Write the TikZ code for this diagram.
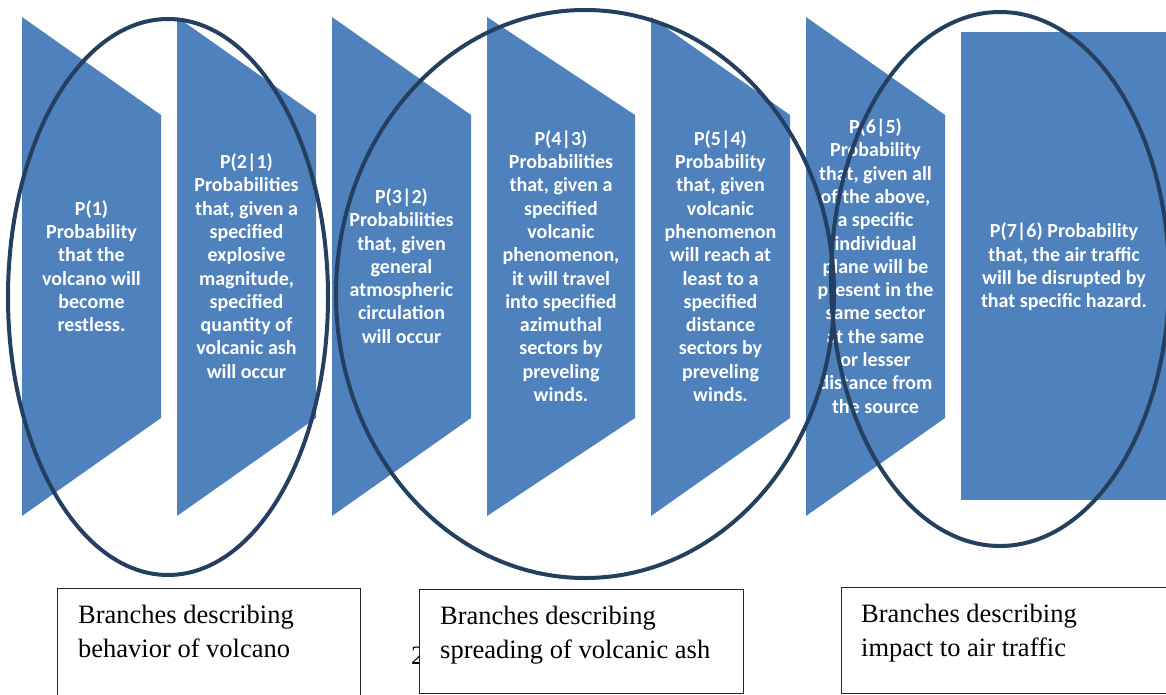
\documentclass[tikz,border=0pt]{standalone}
\usepackage{fontspec}
\setmainfont{Liberation Serif}
\newfontfamily\calfont{Carlito}
\usepackage{tikz}
\definecolor{chevblue}{HTML}{4F81BD}
\definecolor{ringnavy}{HTML}{243F60}

\begin{document}
\begin{tikzpicture}[x=1pt,y=-1pt]
        \tikzstyle{every node} = [inner sep=0pt]
        \tikzstyle{stage} = [text=white, align=center, font=\calfont\bfseries\fontsize{20}{23.3}\selectfont]
        \tikzstyle{ring} = [draw=ringnavy, line width=4pt]
        \tikzstyle{branchbox} = [draw=black!85, fill=white, line width=0.9pt, anchor=north west]
        \tikzstyle{branchtext} = [anchor=north west, align=left, font=\fontsize{26.5}{34}\selectfont]
        \clip (0,0) rectangle (1166,695);

        % chevrons and last block
        \foreach \x/\w in {22/139, 177/139, 332/139, 487/148, 651/139, 806/139}
            \fill[chevblue] (\x,17) -- (\x+\w,115) -- (\x+\w,418) -- (\x,516) -- cycle;
        \fill[chevblue] (961,32) rectangle (1180,500);

        \node[stage] (p1) at (91.5,266) {P(1)\\Probability\\that the\\volcano will\\become\\restless.};
        \node[stage] (p2) at (246.5,266) {P(2|1)\\Probabilities\\that, given a\\specified\\explosive\\magnitude,\\specified\\quantity of\\volcanic ash\\will occur};
        \node[stage] (p3) at (401.5,266) {P(3|2)\\Probabilities\\that, given\\general\\atmospheric\\circulation\\will occur};
        \node[stage] (p4) at (561,266) {P(4|3)\\Probabilities\\that, given a\\specified\\volcanic\\phenomenon,\\it will travel\\into specified\\azimuthal\\sectors by\\preveling\\winds.};
        \node[stage] (p5) at (720.5,266) {P(5|4)\\Probability\\that, given\\volcanic\\phenomenon\\will reach at\\least to a\\specified\\distance\\sectors by\\preveling\\winds.};
        \node[stage] (p6) at (875.5,266) {P(6|5)\\Probability\\that, given all\\of the above,\\a specific\\individual\\plane will be\\present in the\\same sector\\at the same\\or lesser\\distance from\\the source};
        \node[stage] (p7) at (1064,267) {P(7|6) Probability\\that, the air traffic\\will be disrupted by\\that specific hazard.};

        % groups
        \draw[ring] (168,297) ellipse [x radius=160pt, y radius=278pt];
        \draw[ring] (585,294) ellipse [x radius=249pt, y radius=284pt];
        \draw[ring] (1000,279) ellipse [x radius=169pt, y radius=267pt];

        \node[anchor=base west, font=\fontsize{26.5}{34}\selectfont] (pagenum) at (411,664) {2};

        \node[branchbox, minimum width=303pt, minimum height=130pt] (volcanobox) at (57,588) {};
        \node[branchbox, minimum width=324pt, minimum height=104pt] (ashbox) at (419,589) {};
        \node[branchbox, minimum width=340pt, minimum height=106pt] (trafficbox) at (841,587) {};

        \node[branchtext] (volcanotext) at ([shift={(21,17)}]volcanobox.north west) {Branches describing\\behavior of volcano};
        \node[branchtext] (ashtext) at ([shift={(21,17)}]ashbox.north west) {Branches describing\\spreading of volcanic ash};
        \node[branchtext] (traffictext) at ([shift={(20,17)}]trafficbox.north west) {Branches describing\\impact to air traffic};
\end{tikzpicture}
\end{document}
